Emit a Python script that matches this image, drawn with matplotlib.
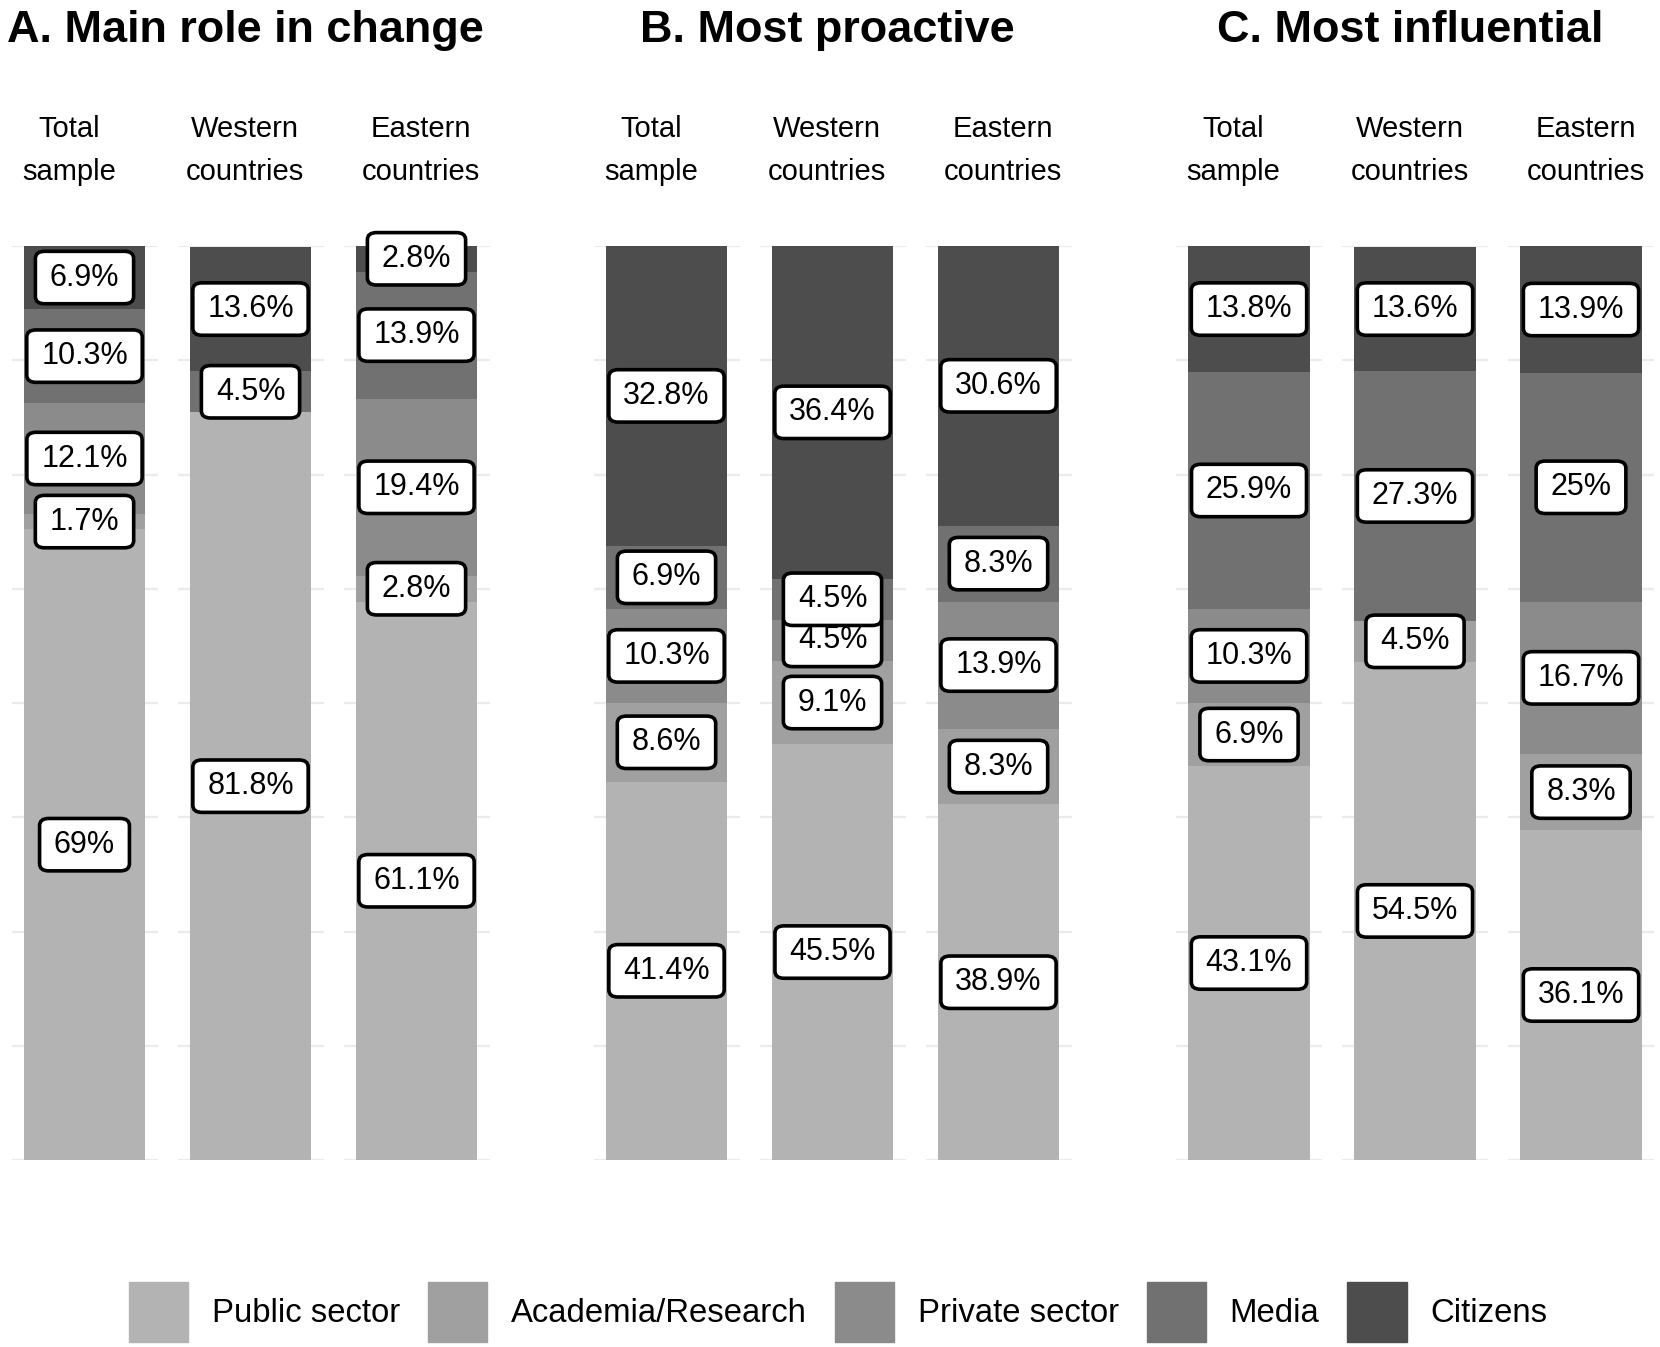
import numpy as np
import matplotlib
matplotlib.use("Agg")
import matplotlib.pyplot as plt
from matplotlib.patches import Patch

plt.rcParams['font.family'] = ['Liberation Sans', 'DejaVu Sans']

# data, stacked bottom -> top
sectors = ['Public sector', 'Academia/Research', 'Private sector', 'Media', 'Citizens']
sector_colors = ['#B3B3B3', '#A0A0A0', '#8B8B8B', '#717171', '#4D4D4D']
groups = ['Total\nsample', 'Western\ncountries', 'Eastern\ncountries']
titles = ['A. Main role in change', 'B. Most proactive', 'C. Most influential']

main_total = [69, 1.7, 12.1, 10.3, 6.9]
main_west = [81.8, 0, 0, 4.5, 13.6]
main_east = [61.1, 2.8, 19.4, 13.9, 2.8]

proactive_total = [41.4, 8.6, 10.3, 6.9, 32.8]
proactive_west = [45.5, 9.1, 4.5, 4.5, 36.4]
proactive_east = [38.9, 8.3, 13.9, 8.3, 30.6]

influential_total = [43.1, 6.9, 10.3, 25.9, 13.8]
influential_west = [54.5, 4.5, 0, 27.3, 13.6]
influential_east = [36.1, 8.3, 16.7, 25, 13.9]

panels = [
    [main_total, main_west, main_east],
    [proactive_total, proactive_west, proactive_east],
    [influential_total, influential_west, influential_east],
]

# layout in pixels
W, H = 1660, 1347
panel_x0 = [11.5, 593.5, 1176]
facet_w, facet_step = 146, 166
y_top, y_bot = 246, 1160
strip_shift = [-15.5, -5.5, 4.5]

fig = plt.figure(figsize=(W / 100, H / 100), dpi=100)

for p, (title, data) in enumerate(zip(titles, panels)):
    x0 = panel_x0[p]
    pc = x0 + (3 * facet_w + 2 * (facet_step - facet_w)) / 2
    fig.text((pc - 5) / W, 1 - 42 / H, title, ha='center', va='baseline',
             fontsize=32.4, fontweight='bold')
    for g, vals in enumerate(data):
        left = x0 + g * facet_step
        ax = fig.add_axes([left / W, (H - y_bot) / H, facet_w / W, (y_bot - y_top) / H])
        ax.set_xlim(-0.6, 0.6)
        ax.set_ylim(0, 100)
        ax.set_yticks(np.arange(0, 100.1, 12.5))
        ax.grid(axis='y', color='#EBEBEB', lw=1.6)
        ax.set_axisbelow(True)
        ax.tick_params(left=False, bottom=False, labelleft=False, labelbottom=False)
        for s in ax.spines.values():
            s.set_visible(False)

        bottom = 0
        for v, c in zip(vals, sector_colors):
            ax.bar(0, v, width=1, bottom=bottom, color=c, lw=0)
            bottom += v
        bottom = 0
        for v in vals:
            if v > 0:
                ax.text(0, bottom + v / 2, f"{v:g}%", ha='center', va='center',
                        fontsize=22, zorder=5, clip_on=False,
                        bbox=dict(boxstyle='round,pad=0.47,rounding_size=0.3',
                                  mutation_aspect=0.78,
                                  fc='white', ec='black', lw=2.6))
            bottom += v

        # strip label
        cx = left + facet_w / 2 + strip_shift[g]
        for k, line in enumerate(groups[g].split('\n')):
            fig.text(cx / W, 1 - (137 + 43 * k) / H, line, ha='center',
                     va='baseline', fontsize=21)

handles = [Patch(color=c) for c in sector_colors]
fig.legend(handles, sectors, loc='center', bbox_to_anchor=(838 / W, 1 - 1312 / H),
           ncol=5, frameon=False, fontsize=23.7, handlelength=1.8, handleheight=2.43,
           handletextpad=0.72, columnspacing=0.85)

fig.savefig('out.png', dpi=100, facecolor='white')
